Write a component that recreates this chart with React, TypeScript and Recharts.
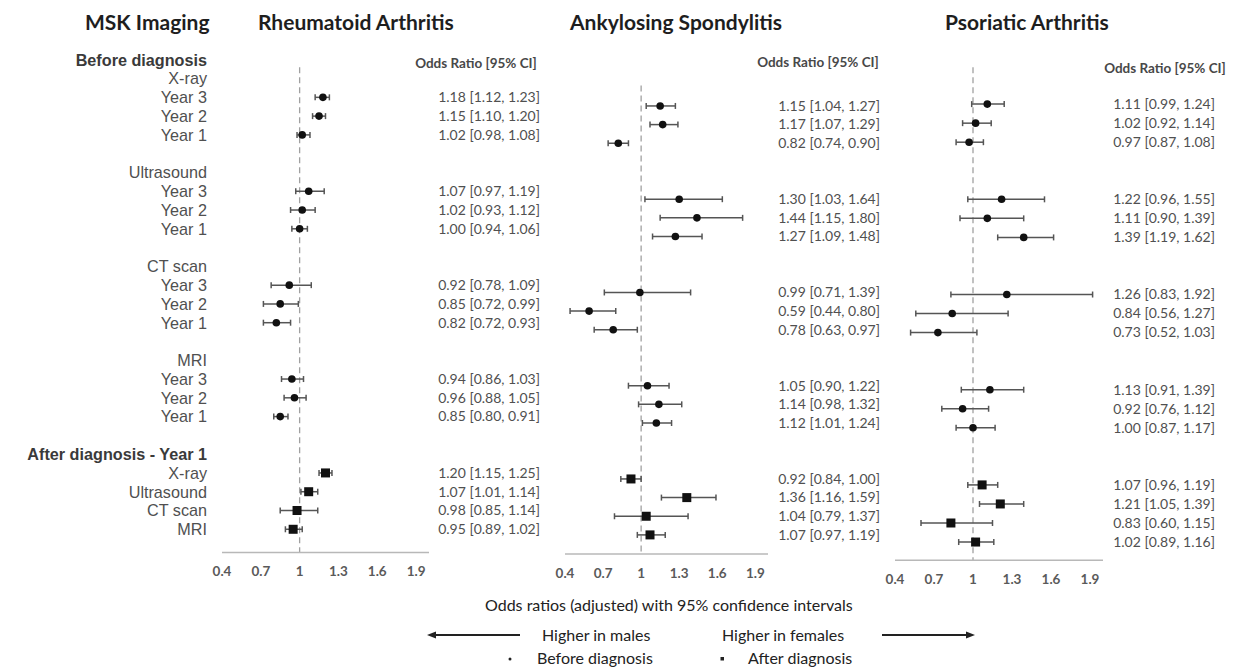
import React from "react";
import { ScatterChart, Scatter, XAxis, YAxis, ErrorBar, ReferenceLine } from "recharts";

const font = "Lato, 'Open Sans', sans-serif";
const labelFont = "'Liberation Sans', Lato, sans-serif";

// one entry per row, top to bottom; blank strings are spacer rows
const rowLabels = [
  "Before diagnosis", "X-ray", "Year 3", "Year 2", "Year 1", "",
  "Ultrasound", "Year 3", "Year 2", "Year 1", "",
  "CT scan", "Year 3", "Year 2", "Year 1", "",
  "MRI", "Year 3", "Year 2", "Year 1", "",
  "After diagnosis - Year 1", "X-ray", "Ultrasound", "CT scan", "MRI",
];
const boldRows = [0, 21];
const beforeRows = [2, 3, 4, 7, 8, 9, 12, 13, 14, 17, 18, 19];
const afterRows = [22, 23, 24, 25];
const xTicks = [0.4, 0.7, 1, 1.3, 1.6, 1.9];

// Rheumatoid Arthritis
const raOR = [1.18, 1.15, 1.02, 1.07, 1.02, 1.0, 0.92, 0.85, 0.82, 0.94, 0.96, 0.85, 1.2, 1.07, 0.98, 0.95];
const raLow = [1.12, 1.1, 0.98, 0.97, 0.93, 0.94, 0.78, 0.72, 0.72, 0.86, 0.88, 0.8, 1.15, 1.01, 0.85, 0.89];
const raHigh = [1.23, 1.2, 1.08, 1.19, 1.12, 1.06, 1.09, 0.99, 0.93, 1.03, 1.05, 0.91, 1.25, 1.14, 1.14, 1.02];

// Ankylosing Spondylitis
const asOR = [1.15, 1.17, 0.82, 1.3, 1.44, 1.27, 0.99, 0.59, 0.78, 1.05, 1.14, 1.12, 0.92, 1.36, 1.04, 1.07];
const asLow = [1.04, 1.07, 0.74, 1.03, 1.15, 1.09, 0.71, 0.44, 0.63, 0.9, 0.98, 1.01, 0.84, 1.16, 0.79, 0.97];
const asHigh = [1.27, 1.29, 0.9, 1.64, 1.8, 1.48, 1.39, 0.8, 0.97, 1.22, 1.32, 1.24, 1.0, 1.59, 1.37, 1.19];

// Psoriatic Arthritis
const psaOR = [1.11, 1.02, 0.97, 1.22, 1.11, 1.39, 1.26, 0.84, 0.73, 1.13, 0.92, 1.0, 1.07, 1.21, 0.83, 1.02];
const psaLow = [0.99, 0.92, 0.87, 0.96, 0.9, 1.19, 0.83, 0.56, 0.52, 0.91, 0.76, 0.87, 0.96, 1.05, 0.6, 0.89];
const psaHigh = [1.24, 1.14, 1.08, 1.55, 1.39, 1.62, 1.92, 1.27, 1.03, 1.39, 1.12, 1.17, 1.19, 1.39, 1.15, 1.16];

const panels = [
  { key: "ra", or: raOR, low: raLow, high: raHigh, plotLeft: 222, plotWidth: 207, textWidth: 125, textEnd: 111, row0: 59.4, step: 18.78, axisRow: 26.23, dashTop: 0.4, headerRow: 0.19, headerX: 47, labels: true },
  { key: "as", or: asOR, low: asLow, high: asHigh, plotLeft: 565, plotWidth: 203, textWidth: 125, textEnd: 112, row0: 68.7, step: 18.65, axisRow: 26.02, dashTop: 0.9, headerRow: -0.36, headerX: 50, labels: false },
  { key: "psa", or: psaOR, low: psaLow, high: psaHigh, plotLeft: 895, plotWidth: 208, textWidth: 135, textEnd: 112, row0: 65.9, step: 19.04, axisRow: 25.95, dashTop: 0.06, headerRow: 0.11, headerX: 62, labels: false },
];

const fmt = (v: number) => v.toFixed(2);

const RowTick = ({ x, y, payload }: any) => {
  const label = rowLabels[payload.value];
  if (!label) return null;
  const bold = boldRows.includes(payload.value);
  return (
    <text x={x - 15} y={y} dy="0.36em" textAnchor="end" fontFamily={labelFont} fontSize={16.2}
      fontWeight={bold ? 700 : 400} fill={bold ? "#3a3a3a" : "#505050"}>
      {label}
    </text>
  );
};

const Dot = ({ cx, cy }: any) => <circle cx={cx} cy={cy} r={3.8} fill="#111" />;
const Square = ({ cx, cy }: any) => <rect x={cx - 4.5} y={cy - 4.5} width={9} height={9} fill="#111" />;

function ForestPanel({ p }: any) {
  const rows = [...beforeRows, ...afterRows];
  const pts = rows.map((row, i) => ({
    row,
    or: p.or[i],
    err: [p.or[i] - p.low[i], p.high[i] - p.or[i]],
    text: `${fmt(p.or[i])} [${fmt(p.low[i])}, ${fmt(p.high[i])}]`,
  }));
  const before = pts.slice(0, beforeRows.length);
  const after = pts.slice(beforeRows.length);
  const labelW = p.labels ? p.plotLeft - 12 : 0;
  const padL = 12;
  const axisH = 34;
  const plotH = (p.axisRow + 1) * p.step;
  const width = padL + labelW + p.plotWidth + p.textWidth;

  const OrTick = ({ x, y, payload }: any) => {
    if (payload.value === p.headerRow) {
      return (
        <text x={x + p.headerX} y={y} dy="0.35em" textAnchor="middle" fontFamily={font}
          fontSize={13.5} fontWeight={700} fill="#484848">
          Odds Ratio [95% CI]
        </text>
      );
    }
    const pt = pts.find((d) => d.row === payload.value);
    if (!pt) return null;
    return (
      <text x={x + p.textEnd} y={y} dy="0.35em" textAnchor="end" fontFamily={font} fontSize={14} fill="#505050">
        {pt.text}
      </text>
    );
  };

  return (
    <div style={{ position: "absolute", left: p.plotLeft - labelW - padL, top: p.row0 - p.step }}>
      <ScatterChart width={width} height={plotH + axisH} margin={{ top: 0, right: 0, bottom: 0, left: padL }}>
        <XAxis type="number" dataKey="or" domain={[0.4, 2.0]} ticks={xTicks} allowDataOverflow
          axisLine={{ stroke: "#b8b8b8", strokeWidth: 1.5 }} tickLine={false} tickSize={0} tickMargin={14}
          height={axisH} tick={{ fontSize: 13.5, fill: "#5a5a5a", fontFamily: font, fontWeight: 700 }} />
        <YAxis yAxisId="rows" type="number" dataKey="row" domain={[-1, p.axisRow]} reversed allowDataOverflow
          hide={!p.labels} width={labelW} ticks={rowLabels.map((_, i) => i)} interval={0}
          axisLine={false} tickLine={false} tickSize={0} tickMargin={0} tick={<RowTick />} />
        <YAxis yAxisId="txt" orientation="right" type="number" domain={[-1, p.axisRow]} reversed allowDataOverflow
          width={p.textWidth} ticks={[p.headerRow, ...rows]} interval={0}
          axisLine={false} tickLine={false} tickSize={0} tickMargin={0} tick={<OrTick />} />
        <ReferenceLine yAxisId="rows" segment={[{ x: 1, y: p.dashTop }, { x: 1, y: p.axisRow }]}
          stroke="#a0a0a0" strokeWidth={1.3} strokeDasharray="6 4" />
        <Scatter yAxisId="rows" data={before} shape={<Dot />} isAnimationActive={false}>
          <ErrorBar dataKey="err" direction="x" width={3} stroke="#555" strokeWidth={1.5} />
        </Scatter>
        <Scatter yAxisId="rows" data={after} shape={<Square />} isAnimationActive={false}>
          <ErrorBar dataKey="err" direction="x" width={3} stroke="#555" strokeWidth={1.5} />
        </Scatter>
      </ScatterChart>
    </div>
  );
}

const titleStyle: React.CSSProperties = {
  position: "absolute", top: 9, fontFamily: font, fontWeight: 700, fontSize: 21,
  lineHeight: "26px", color: "#1e1e1e", whiteSpace: "nowrap",
};
const footStyle: React.CSSProperties = {
  position: "absolute", fontFamily: font, fontSize: 16, lineHeight: "20px", color: "#222", whiteSpace: "nowrap",
};

export default function App() {
  return (
    <div style={{ position: "absolute", left: 0, top: 0, width: 1236, height: 667, background: "#fff", overflow: "hidden" }}>
      <div style={{ ...titleStyle, left: 85 }}>MSK Imaging</div>
      <div style={{ ...titleStyle, left: 258 }}>Rheumatoid Arthritis</div>
      <div style={{ ...titleStyle, left: 570 }}>Ankylosing Spondylitis</div>
      <div style={{ ...titleStyle, left: 945 }}>Psoriatic Arthritis</div>

      {panels.map((p) => (
        <ForestPanel key={p.key} p={p} />
      ))}

      <div style={{ ...footStyle, left: 485, top: 595 }}>Odds ratios (adjusted) with 95% confidence intervals</div>
      <div style={{ ...footStyle, left: 542, top: 625 }}>Higher in males</div>
      <div style={{ ...footStyle, left: 722, top: 625 }}>Higher in females</div>
      <svg style={{ position: "absolute", left: 0, top: 0 }} width={1236} height={667} pointerEvents="none">
        <line x1={434} y1={635} x2={520} y2={635} stroke="#222" strokeWidth={1.8} />
        <polygon points="427,635 436,631.5 436,638.5" fill="#222" />
        <line x1={882} y1={635} x2={968} y2={635} stroke="#222" strokeWidth={1.8} />
        <polygon points="975,635 966,631.5 966,638.5" fill="#222" />
        <circle cx={510} cy={659} r={1.5} fill="#222" />
        <rect x={720.5} y={657} width={3.5} height={3.5} fill="#222" />
      </svg>
      <div style={{ ...footStyle, left: 537, top: 648 }}>Before diagnosis</div>
      <div style={{ ...footStyle, left: 748, top: 648 }}>After diagnosis</div>
    </div>
  );
}
